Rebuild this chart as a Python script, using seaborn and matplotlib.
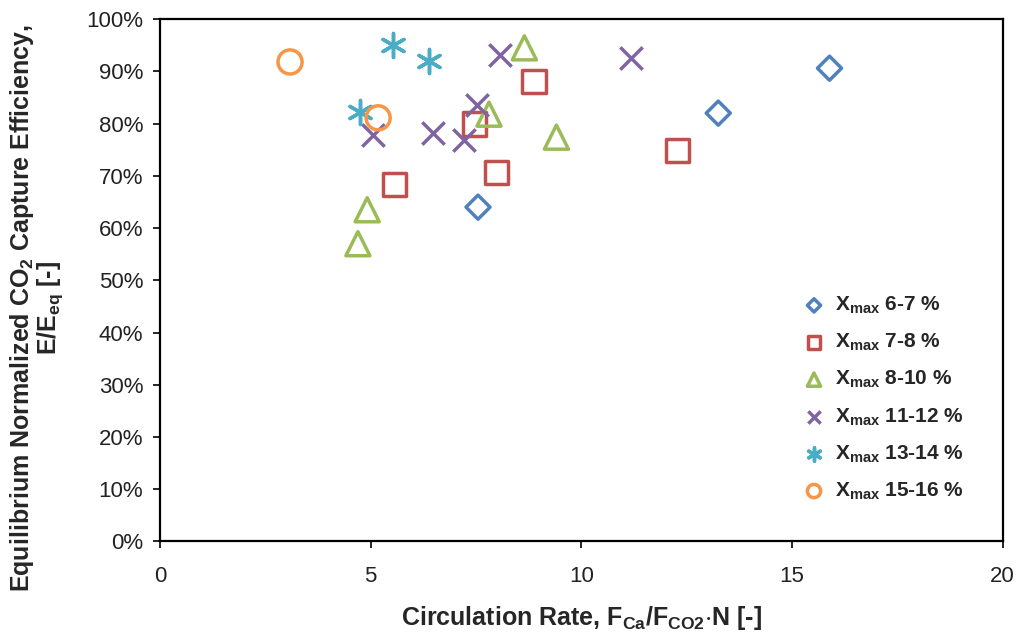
import matplotlib
matplotlib.use('agg')
import matplotlib.pyplot as plt
import pandas as pd
import seaborn as sns
from matplotlib.ticker import PercentFormatter

sns.set_style("ticks")
plt.rcParams['font.family'] = ['Liberation Sans', 'DejaVu Sans']
plt.rcParams['mathtext.default'] = 'regular'

groups = ["6-7", "7-8", "8-10", "11-12", "13-14", "15-16"]

x_6_7 = [7.55, 13.25, 15.89]
y_6_7 = [64.0, 82.0, 90.6]
x_7_8 = [5.56, 7.46, 7.98, 8.88, 12.28]
y_7_8 = [68.3, 79.9, 70.7, 88.0, 74.8]
x_8_10 = [4.70, 4.92, 7.81, 8.65, 9.41]
y_8_10 = [57.0, 63.5, 81.8, 94.5, 77.4]
x_11_12 = [5.06, 6.48, 7.22, 7.53, 8.08, 11.19]
y_11_12 = [77.8, 78.2, 76.9, 83.6, 93.1, 92.5]
x_13_14 = [4.75, 5.53, 6.39]
y_13_14 = [82.2, 95.0, 92.0]
x_15_16 = [3.09, 5.18]
y_15_16 = [91.8, 81.1]

xs = [x_6_7, x_7_8, x_8_10, x_11_12, x_13_14, x_15_16]
ys = [y_6_7, y_7_8, y_8_10, y_11_12, y_13_14, y_15_16]

colors = ["#4F81BD", "#C0504D", "#9BBB59", "#8064A2", "#4BACC6", "#F79646"]
markers = ["D", "s", "^", "x", (6, 2, 0), "o"]
sizes = [150, 280, 300, 260, 300, 300]

fig = plt.figure(figsize=(10.18, 6.37), dpi=100)
ax = fig.add_axes([0.157, 0.150, 0.828, 0.820])

for i in range(len(groups)):
    df = pd.DataFrame({"x": xs[i], "y": ys[i]})
    label = "$X_{max}$ " + groups[i] + " %"
    if markers[i] in ["x", (6, 2, 0)]:
        sns.scatterplot(data=df, x="x", y="y", ax=ax, marker=markers[i], s=sizes[i],
                        color=colors[i], linewidth=2.5, label=label)
    else:
        sns.scatterplot(data=df, x="x", y="y", ax=ax, marker=markers[i], s=sizes[i],
                        facecolor="none", edgecolor=colors[i], linewidth=2.5, label=label)

ax.set_xlim(0, 20)
ax.set_ylim(0, 100)
ax.set_xticks([0, 5, 10, 15, 20])
ax.set_yticks(range(0, 101, 10))
ax.yaxis.set_major_formatter(PercentFormatter(decimals=0))
ax.tick_params(axis="both", labelsize=16, direction="out", length=5, width=1.2,
               colors="black", labelcolor="#222222")
ax.tick_params(axis="x", pad=13)
ax.tick_params(axis="y", pad=7)
for sp in ax.spines.values():
    sp.set_visible(True)
    sp.set_color("black")
    sp.set_linewidth(1.6)

ax.set_xlabel("Circulation Rate, F$_{Ca}$/F$_{CO2}$$\\cdot$N [-]", fontsize=18,
              fontweight="bold", labelpad=12)
ax.set_ylabel("Equilibrium Normalized CO$_2$ Capture Efficiency,\nE/E$_{eq}$ [-]",
              fontsize=18, fontweight="bold", linespacing=1.0)
ax.yaxis.set_label_coords(-0.112, 0.447)

leg = ax.legend(loc="lower right", bbox_to_anchor=(0.976, 0.04), frameon=False,
                prop={"size": 15, "weight": "bold"}, labelspacing=0.76,
                handletextpad=0.2, handlelength=1.6, markerscale=0.55)

plt.savefig("out.png", dpi=100)
